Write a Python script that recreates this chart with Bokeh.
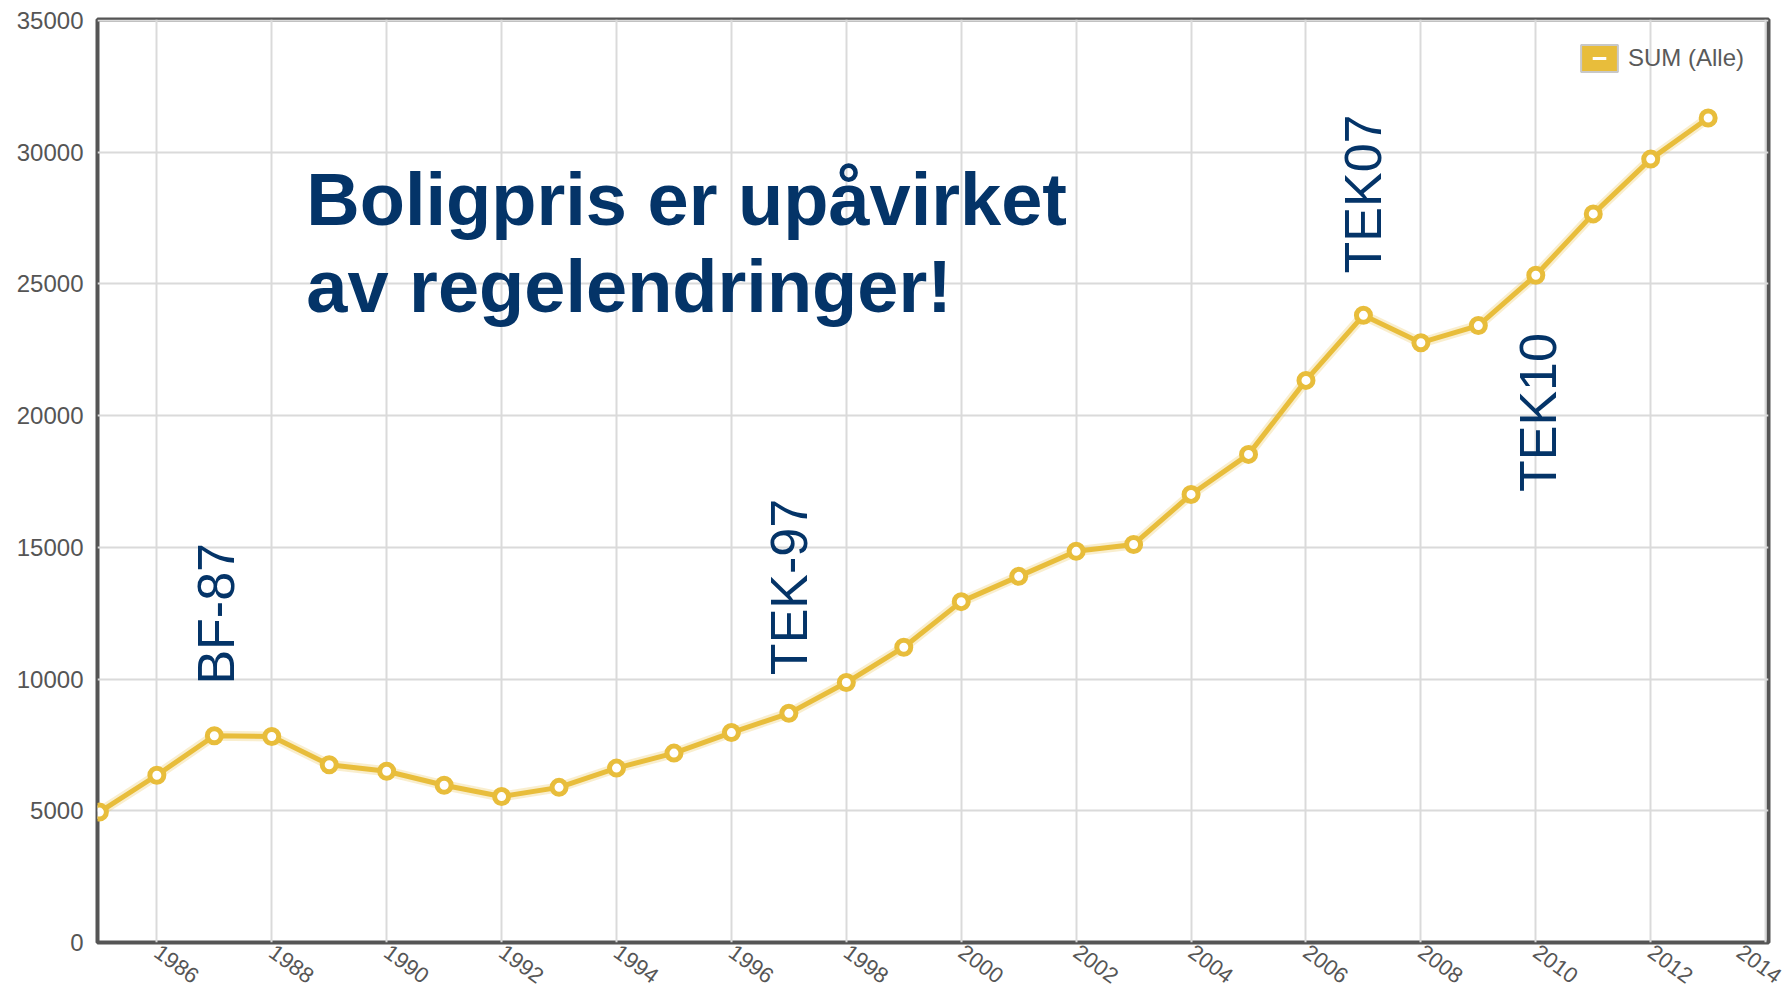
import math
from bokeh.plotting import figure
from bokeh.models import Range1d, Legend, LegendItem, Label
from bokeh.embed import file_html
from bokeh.resources import INLINE

# ---- data ----
years = list(range(1985, 2014))
prices = [4950, 6350, 7850, 7820, 6750, 6500, 5970, 5540, 5890, 6620,
          7190, 7970, 8700, 9870, 11210, 12940, 13900, 14850, 15110, 17010,
          18530, 21340, 23810, 22770, 23420, 25330, 27660, 29740, 31300]
series_name = "SUM (Alle)"
x_ticks = list(range(1986, 2015, 2))
y_ticks = list(range(0, 35001, 5000))
title_lines = ["Boligpris er upåvirket", "av regelendringer!"]
events = ["BF-87", "TEK-97", "TEK07", "TEK10"]

YELLOW = "#E8BD3B"
NAVY = "#043468"
GRAY = "#555555"
FONT = "Liberation Sans"

p = figure(width=1783, height=993, output_backend="svg", toolbar_location=None,
           x_range=Range1d(1984.967, 2014.05), y_range=Range1d(0, 35040),
           min_border_left=97, min_border_right=15, min_border_top=19,
           min_border_bottom=51)
p.background_fill_color = "white"
p.border_fill_color = "white"
p.outline_line_color = GRAY
p.outline_line_width = 4

p.xaxis.ticker = x_ticks
p.yaxis.ticker = y_ticks
for ax in (p.xaxis, p.yaxis):
    ax.axis_line_color = None
    ax.major_tick_line_color = None
    ax.minor_tick_line_color = None
    ax.major_tick_out = 0
    ax.major_tick_in = 0
    ax.minor_tick_out = 0
    ax.major_label_text_color = GRAY
    ax.major_label_text_font = FONT
p.yaxis.major_label_text_font_size = "24px"
p.yaxis.major_label_standoff = 14
p.xaxis.major_label_text_font_size = "22px"
p.xaxis.major_label_standoff = 7
p.xaxis.major_label_orientation = -0.63

p.xgrid.grid_line_color = "#dadada"
p.ygrid.grid_line_color = "#dadada"
p.xgrid.grid_line_width = 2
p.ygrid.grid_line_width = 2

# series
p.line(years, prices, line_color=YELLOW, line_width=10, line_alpha=0.25)
p.line(years, prices, line_color=YELLOW, line_width=5)
p.scatter(years, prices, marker="circle", size=14, fill_color="white",
          line_color=YELLOW, line_width=5)

# headline
p.add_layout(Label(x=1988.6, y=28200, text=title_lines[0], text_font=FONT,
                   text_font_size="74px", text_font_style="bold", text_color=NAVY,
                   text_align="left", text_baseline="alphabetic"))
p.add_layout(Label(x=1988.6, y=24890, text=title_lines[1], text_font=FONT,
                   text_font_size="74px", text_font_style="bold", text_color=NAVY,
                   text_align="left", text_baseline="alphabetic"))

# rule-change annotations
ev_pos = [(1987.03, 9790), (1997.0, 10150), (2007.0, 25400), (2010.03, 17100)]
for name, (ex, ey) in zip(events, ev_pos):
    p.add_layout(Label(x=ex, y=ey, text=name, angle=math.pi / 2, text_font=FONT,
                       text_font_size="52px", text_color=NAVY,
                       text_align="left", text_baseline="middle"))

# legend
nan = float("nan")
sw = p.quad(left=[nan], right=[nan], top=[nan], bottom=[nan], fill_color=YELLOW,
            line_color="#c8c8c8", line_width=2)
dash = p.scatter(x=[nan], y=[nan], marker="dash", size=10, line_color="white",
                 line_width=3)
legend = Legend(items=[LegendItem(label=series_name, renderers=[sw, dash])],
                location=(1479, 867), padding=0, margin=0, border_line_color=None,
                background_fill_alpha=0, glyph_width=46, glyph_height=34,
                label_standoff=6, label_text_font_size="24px",
                label_text_color="#5a5a5a", label_text_font=FONT)
p.add_layout(legend)

open("out.html", "w").write(file_html(p, INLINE))
